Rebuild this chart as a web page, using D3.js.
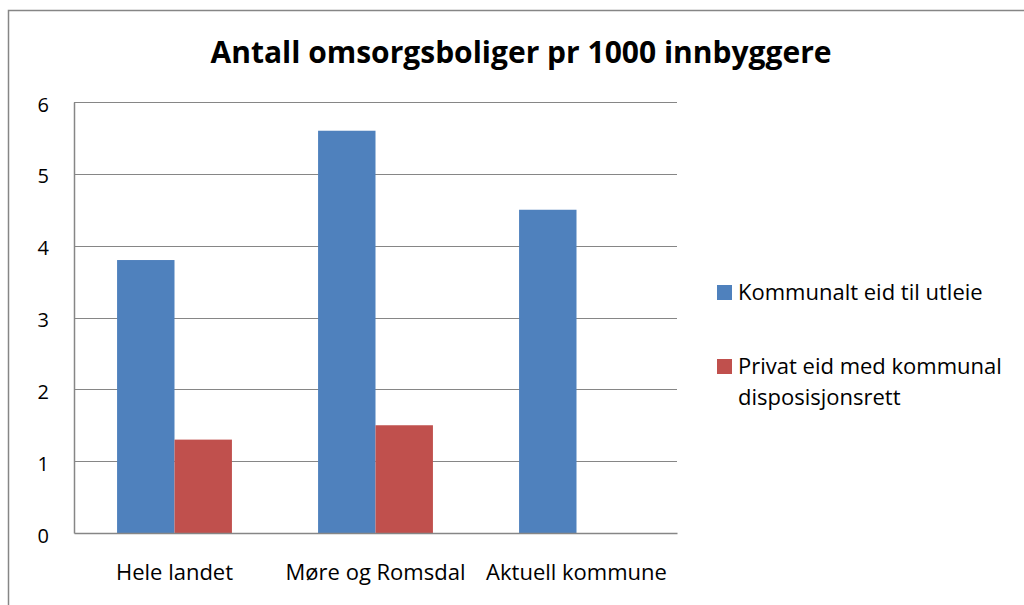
<!doctype html>
<html>
<head>
	<meta charset="utf-8">
	<title>Antall omsorgsboliger</title>
	<script src="https://cdnjs.cloudflare.com/ajax/libs/d3/7.8.5/d3.min.js"></script>
	<style>
		body { margin: 0; background: #fff; }
		text { font-family: "Open Sans", sans-serif; fill: #000; }
	</style>
</head>
<body>
	<script>
		// data
		var categories = ['Hele landet', 'Møre og Romsdal', 'Aktuell kommune'];
		var seriesNames = ['Kommunalt eid til utleie', 'Privat eid med kommunal disposisjonsrett'];
		var kommunalt = [3.8, 5.6, 4.5];
		var privat = [1.3, 1.5, null];
		var yTicks = [0, 1, 2, 3, 4, 5, 6];
		var colors = ['#4f81bd', '#c0504d'];

		var width = 1024, height = 605;
		var margin = { left: 74, right: 347, top: 102, bottom: 72 };

		var svg = d3.select('body').append('svg')
			.attr('width', width)
			.attr('height', height);

		// chart frame
		svg.append('rect')
			.attr('x', 8.5).attr('y', 10.5)
			.attr('width', 1030).attr('height', 620)
			.attr('fill', 'none')
			.attr('stroke', '#868686')
			.attr('stroke-width', 1.5);

		svg.append('text')
			.attr('x', 521).attr('y', 63)
			.attr('text-anchor', 'middle')
			.style('font-size', '30px')
			.style('font-weight', 'bold')
			.text('Antall omsorgsboliger pr 1000 innbyggere');

		var x = d3.scaleBand()
			.domain(categories)
			.range([margin.left, width - margin.right]);

		var xInner = d3.scaleBand()
			.domain([0, 1])
			.range([0, x.bandwidth()])
			.paddingInner(0)
			.paddingOuter(0.75);

		var y = d3.scaleLinear()
			.domain([0, 6])
			.range([height - margin.bottom, margin.top]);

		// gridlines
		svg.append('g')
			.selectAll('line')
			.data(yTicks.filter(function (d) { return d > 0; }))
			.enter().append('line')
			.attr('x1', margin.left).attr('x2', width - margin.right)
			.attr('y1', function (d) { return Math.round(y(d)) + 0.5; })
			.attr('y2', function (d) { return Math.round(y(d)) + 0.5; })
			.attr('stroke', '#868686')
			.attr('stroke-width', 1);

		// bars
		var rows = categories.map(function (c, i) {
			return [
				{ cat: c, s: 0, v: kommunalt[i] },
				{ cat: c, s: 1, v: privat[i] }
			];
		});

		svg.append('g')
			.selectAll('g')
			.data(rows)
			.enter().append('g')
			.attr('transform', function (d) { return 'translate(' + x(d[0].cat) + ',0)'; })
			.selectAll('rect')
			.data(function (d) { return d.filter(function (e) { return e.v != null; }); })
			.enter().append('rect')
			.attr('x', function (d) { return xInner(d.s); })
			.attr('width', xInner.bandwidth())
			.attr('y', function (d) { return y(d.v); })
			.attr('height', function (d) { return y(0) - y(d.v); })
			.attr('fill', function (d) { return colors[d.s]; });

		// y axis
		var yAxis = svg.append('g')
			.attr('transform', 'translate(' + margin.left + ',0)')
			.call(d3.axisLeft(y).tickValues(yTicks).tickFormat(d3.format('d')).tickSize(0).tickPadding(25));
		yAxis.select('.domain').attr('stroke', '#868686').attr('stroke-width', 1.5);
		yAxis.selectAll('text')
			.style('font-size', '20px')
			.style('font-family', '"Open Sans", sans-serif')
			.attr('dy', '0.45em');

		// x axis
		var xAxis = svg.append('g')
			.attr('transform', 'translate(0,' + y(0) + ')')
			.call(d3.axisBottom(x).tickSize(0).tickPadding(31));
		xAxis.select('.domain').attr('stroke', '#868686').attr('stroke-width', 1.5);
		xAxis.selectAll('text')
			.style('font-size', '22px')
			.style('font-family', '"Open Sans", sans-serif');

		// legend
		var legend = svg.append('g');
		var legendItems = [
			{ lines: [seriesNames[0]], y: 285 },
			{ lines: ['Privat eid med kommunal', 'disposisjonsrett'], y: 359 }
		];
		legendItems.forEach(function (item, i) {
			legend.append('rect')
				.attr('x', 717).attr('y', item.y)
				.attr('width', 15).attr('height', 15)
				.attr('fill', colors[i]);
			item.lines.forEach(function (line, j) {
				legend.append('text')
					.attr('x', 738)
					.attr('y', item.y + 15 + j * 31)
					.style('font-size', '22px')
					.text(line);
			});
		});
	</script>
</body>
</html>
